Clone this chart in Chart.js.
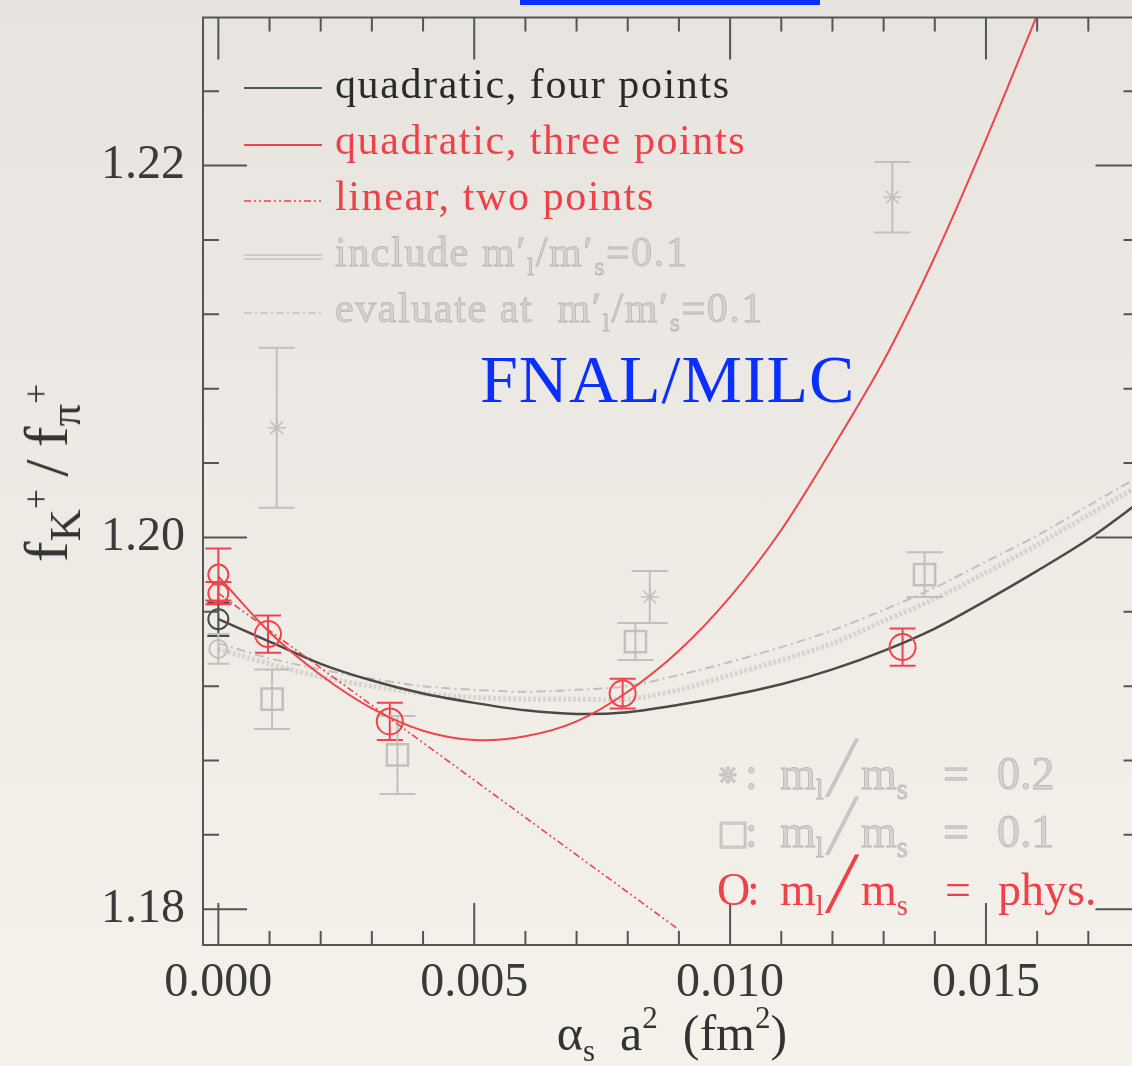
<!DOCTYPE html>
<html>
<head>
<meta charset="utf-8">
<script src="https://cdn.jsdelivr.net/npm/chart.js@4.4.1/dist/chart.umd.min.js"></script>
<style>
  html, body { margin: 0; padding: 0; }
  body {
    width: 1132px; height: 1066px; overflow: hidden; position: relative;
    background: linear-gradient(#e7e4df, #f5f2ec);
    font-family: "Liberation Serif", serif;
  }
  #wrap { position: absolute; left: 0; top: 0; width: 1157px; height: 1066px; }
  .abs { position: absolute; white-space: nowrap; }
  sub { font-size: 0.62em; vertical-align: -0.35em; line-height: 0; }
  sup { font-size: 0.62em; vertical-align: 0.7em; line-height: 0; }
  .leg { font-size: 42px; line-height: 42px; letter-spacing: 1.6px; left: 335px; }
  .faint { color: #d6d3ce; -webkit-text-stroke: 0.8px #b9b7b3; }
  .sym { font-size: 46px; line-height: 46px; }
  .sym span { position: absolute; top: 0; }
  .sym .sl { font-family: "DejaVu Sans"; font-size: 50px; top: -6px; -webkit-text-stroke: 0; }
  .ytl sub { font-size: 0.72em; vertical-align: -0.3em; }
  .ytl sub sup { font-size: 0.8em; vertical-align: 0.9em; }
</style>
</head>
<body>
<div id="wrap"><canvas id="plot" width="1157" height="1066"></canvas></div>

<div class="abs" style="left:520px; top:0; width:300px; height:5px; background:#0b2fff;"></div>

<!-- fit legend, top left -->
<svg class="abs" style="left:244px; top:0;" width="80" height="340">
  <line x1="0" x2="78" y1="88" y2="88" stroke="#555" stroke-width="2"/>
  <line x1="0" x2="78" y1="145" y2="145" stroke="#f0444c" stroke-width="2"/>
  <line x1="0" x2="78" y1="201" y2="201" stroke="#f0444c" stroke-width="1.6" stroke-dasharray="7 3 2 3 2 3"/>
  <line x1="0" x2="78" y1="255" y2="255" stroke="#c4c2be" stroke-width="1.6"/>
  <line x1="0" x2="78" y1="259" y2="259" stroke="#c4c2be" stroke-width="1.6"/>
  <line x1="0" x2="78" y1="313" y2="313" stroke="#c4c2be" stroke-width="1.6" stroke-dasharray="8 3 2 3"/>
</svg>
<div class="abs leg" style="top:63px; color:#2a2a2a;">quadratic, four points</div>
<div class="abs leg" style="top:119px; color:#f0404a;">quadratic, three points</div>
<div class="abs leg" style="top:175px; color:#f0404a;">linear, two points</div>
<div class="abs leg faint" style="top:231px;">include m′<sub>l</sub>/m′<sub>s</sub>=0.1</div>
<div class="abs leg faint" style="top:287px;">evaluate at&nbsp; m′<sub>l</sub>/m′<sub>s</sub>=0.1</div>

<div class="abs" style="left:480px; top:345px; font-size:68px; line-height:68px; letter-spacing:1px; color:#0b2fff;">FNAL/MILC</div>

<!-- symbol legend, bottom right -->
<div class="abs sym faint" style="left:717px; top:751px; width:400px; height:46px;">
  <span style="left:0; font-family:'DejaVu Sans'; font-size:26px;">⋇</span><span style="left:28px;">:</span>
  <span style="left:63px;">m<sub>l</sub></span><span class="sl" style="left:110px; color:#c9c6c1;">╱</span><span style="left:144px;">m<sub>s</sub></span>
  <span style="left:226px;">=</span><span style="left:280px;">0.2</span>
</div>
<div class="abs sym faint" style="left:717px; top:809px; width:400px; height:46px;">
  <span style="left:0; font-family:'DejaVu Sans'; font-size:34px;">□</span><span style="left:28px;">:</span>
  <span style="left:63px;">m<sub>l</sub></span><span class="sl" style="left:110px; color:#c9c6c1;">╱</span><span style="left:144px;">m<sub>s</sub></span>
  <span style="left:226px;">=</span><span style="left:280px;">0.1</span>
</div>
<div class="abs sym" style="left:717px; top:867px; width:400px; height:46px; color:#f0404a;">
  <span style="left:0;">O</span><span style="left:30px;">:</span>
  <span style="left:63px;">m<sub>l</sub></span><span class="sl" style="left:110px;">╱</span><span style="left:144px;">m<sub>s</sub></span>
  <span style="left:228px;">=</span><span style="left:281px;">phys.</span>
</div>

<!-- axis titles -->
<div class="abs ytl" style="left:46px; top:473px; transform:translate(-50%,-50%) rotate(-90deg); font-size:62px; line-height:62px; color:#333;">f<sub>K<sup>+</sup></sub>&thinsp;/&thinsp;f<sub>π<sup>+</sup></sub></div>
<div class="abs" style="left:672px; top:1008px; transform:translateX(-50%); font-size:50px; line-height:50px; color:#333;">α<sub>s</sub>&nbsp; a<sup>2</sup>&nbsp; (fm<sup>2</sup>)</div>

<script>
// axis ranges and ticks
const xRange = [-0.0003, 0.018];
const yRange = [1.178075, 1.227968];
const xTicks = [0, 0.005, 0.010, 0.015];
const yTicks = [1.18, 1.20, 1.22];
const xMinorTicks = [0, 0.001, 0.002, 0.003, 0.004, 0.005, 0.006, 0.007, 0.008, 0.009,
  0.010, 0.011, 0.012, 0.013, 0.014, 0.015, 0.016, 0.017, 0.018];
const yMinorTicks = [1.18, 1.184, 1.188, 1.192, 1.196, 1.20, 1.204, 1.208, 1.212, 1.216,
  1.22, 1.224];

// data points: m_l/m_s = phys.
const physX = [0.00097, 0.00335, 0.0079, 0.01337];
const physY = [1.1948, 1.1901, 1.1916, 1.1941];
const physErr = [0.0010, 0.0010, 0.0008, 0.0010];

// continuum extrapolations at a = 0
const extrapRedY = [1.1980, 1.1970];
const extrapRedErr = [0.0014, 0.0006];
const extrapBlackY = [1.1956];
const extrapBlackErr = [0.0009];
const extrapGrayY = [1.1940];
const extrapGrayErr = [0.0008];

// m_l/m_s = 0.1
const sq01X = [0.00105, 0.0035, 0.00815, 0.0138];
const sq01Y = [1.1913, 1.1883, 1.1944, 1.1980];
const sq01Err = [0.0016, 0.0021, 0.0010, 0.0012];

// m_l/m_s = 0.2
const st02X = [0.00114, 0.00843, 0.01317];
const st02Y = [1.2059, 1.1968, 1.2183];
const st02Err = [0.0043, 0.0014, 0.0019];

// fit curves
const curveX = [0, 0.001, 0.002, 0.003, 0.004, 0.005, 0.006, 0.007, 0.008, 0.009,
  0.010, 0.011, 0.012, 0.013, 0.014, 0.015, 0.016, 0.017, 0.018];
const quad4Y = [1.1956, 1.1944, 1.1932, 1.1923, 1.1916, 1.1911, 1.1907, 1.1905, 1.1906, 1.1910,
  1.1915, 1.1921, 1.1929, 1.1939, 1.1951, 1.1966, 1.1982, 1.1999, 1.2019];
const quad3X = [0, 0.001, 0.002, 0.003, 0.004, 0.005, 0.006, 0.007, 0.008, 0.009,
  0.010, 0.011, 0.012, 0.013, 0.014, 0.015, 0.016];
const quad3Y = [1.1979, 1.1949, 1.1926, 1.1908, 1.1896, 1.1891, 1.1893, 1.1901, 1.1917, 1.1939,
  1.1968, 1.2004, 1.2048, 1.2095, 1.2151, 1.2214, 1.2281];
const lin2X = [0, 0.009];
const lin2Y = [1.1970, 1.1789];
const includeY = [1.1940, 1.1932, 1.1925, 1.1920, 1.1916, 1.1914, 1.1913, 1.1913, 1.1913, 1.1918,
  1.1926, 1.1934, 1.1943, 1.1955, 1.1967, 1.1981, 1.1996, 1.2012, 1.2028];
const evalY = [1.1943, 1.1935, 1.1929, 1.1924, 1.1920, 1.1918, 1.1917, 1.1918, 1.1920, 1.1926,
  1.1933, 1.1941, 1.1950, 1.1961, 1.1973, 1.1987, 1.2001, 1.2017, 1.2033];

const red = '#f0444c';
const dark = '#4a4a4a';
const gray = '#c2c0bc';
const axisColor = '#555';

const pts = (xs, ys) => xs.map((x, i) => ({ x: x, y: ys[i] }));
const zeros = n => new Array(n).fill(0);

// keep the plot box fixed: no automatic padding for edge labels
function noPad(s) {
  s.paddingTop = 0; s.paddingBottom = 0; s.paddingLeft = 0; s.paddingRight = 0;
}

// frame with inward ticks on all four sides
const frameTicks = {
  id: 'frameTicks',
  afterDraw(chart) {
    const { ctx, chartArea: a, scales: { x, y } } = chart;
    ctx.save();
    ctx.strokeStyle = axisColor;
    ctx.lineWidth = 2;
    ctx.strokeRect(a.left, a.top, a.right - a.left, a.bottom - a.top);
    ctx.beginPath();
    xMinorTicks.forEach((v, i) => {
      const p = x.getPixelForValue(v);
      const len = i % 5 === 0 ? 42 : 14;
      ctx.moveTo(p, a.bottom); ctx.lineTo(p, a.bottom - len);
      ctx.moveTo(p, a.top); ctx.lineTo(p, a.top + len);
    });
    yMinorTicks.forEach((v, i) => {
      const p = y.getPixelForValue(v);
      const len = i % 5 === 0 ? 44 : 16;
      ctx.moveTo(a.left, p); ctx.lineTo(a.left + len, p);
      ctx.moveTo(a.right, p); ctx.lineTo(a.right - len, p);
    });
    ctx.stroke();
    ctx.restore();
  }
};

// vertical error bars from each dataset's errors array
const errorBars = {
  id: 'errorBars',
  beforeDatasetsDraw(chart) {
    const { ctx, scales: { x, y } } = chart;
    chart.data.datasets.forEach(ds => {
      if (!ds.errors) return;
      ctx.save();
      ctx.strokeStyle = ds.borderColor;
      ctx.lineWidth = 2;
      ds.data.forEach((pt, i) => {
        const px = x.getPixelForValue(pt.x);
        const top = y.getPixelForValue(pt.y + ds.errors[i]);
        const bot = y.getPixelForValue(pt.y - ds.errors[i]);
        const cap = ds.capWidth;
        ctx.beginPath();
        ctx.moveTo(px, top); ctx.lineTo(px, bot);
        ctx.moveTo(px - cap, top); ctx.lineTo(px + cap, top);
        ctx.moveTo(px - cap, bot); ctx.lineTo(px + cap, bot);
        ctx.stroke();
      });
      ctx.restore();
    });
  }
};

new Chart(document.getElementById('plot'), {
  type: 'scatter',
  data: {
    datasets: [
      {
        label: 'phys',
        data: pts(physX, physY),
        errors: physErr, capWidth: 13,
        pointStyle: 'circle', pointRadius: 13,
        borderColor: red, backgroundColor: 'transparent', borderWidth: 2
      },
      {
        label: 'extrap red',
        data: pts(zeros(2), extrapRedY),
        errors: extrapRedErr, capWidth: 13,
        pointStyle: 'circle', pointRadius: 10,
        borderColor: red, backgroundColor: 'transparent', borderWidth: 2
      },
      {
        label: 'extrap black',
        data: pts(zeros(1), extrapBlackY),
        errors: extrapBlackErr, capWidth: 11,
        pointStyle: 'circle', pointRadius: 10,
        borderColor: dark, backgroundColor: 'transparent', borderWidth: 2
      },
      {
        label: 'quadratic, three points',
        data: pts(quad3X, quad3Y),
        showLine: true, pointRadius: 0, tension: 0.3,
        borderColor: red, borderWidth: 2
      },
      {
        label: 'linear, two points',
        data: pts(lin2X, lin2Y),
        showLine: true, pointRadius: 0,
        borderColor: red, borderWidth: 1.6, borderDash: [7, 3, 2, 3, 2, 3]
      },
      {
        label: 'quadratic, four points',
        data: pts(curveX, quad4Y),
        showLine: true, pointRadius: 0, tension: 0.3,
        borderColor: dark, borderWidth: 2.5
      },
      {
        label: 'extrap gray',
        data: pts(zeros(1), extrapGrayY),
        errors: extrapGrayErr, capWidth: 11,
        pointStyle: 'circle', pointRadius: 9,
        borderColor: gray, backgroundColor: 'transparent', borderWidth: 2
      },
      {
        label: 'include',
        data: pts(curveX, includeY),
        showLine: true, pointRadius: 0, tension: 0.3,
        borderColor: 'rgba(170,168,164,0.35)', borderWidth: 5, borderDash: [3, 2]
      },
      {
        label: 'evaluate',
        data: pts(curveX, evalY),
        showLine: true, pointRadius: 0, tension: 0.3,
        borderColor: gray, borderWidth: 2, borderDash: [9, 4, 2, 4]
      },
      {
        label: '0.1',
        data: pts(sq01X, sq01Y),
        errors: sq01Err, capWidth: 18,
        pointStyle: 'rect', pointRadius: 15,
        borderColor: gray, backgroundColor: 'transparent', borderWidth: 2.5
      },
      {
        label: '0.2',
        data: pts(st02X, st02Y),
        errors: st02Err, capWidth: 18,
        pointStyle: 'star', pointRadius: 9,
        borderColor: gray, backgroundColor: 'transparent', borderWidth: 1.5
      }
    ]
  },
  options: {
    responsive: false,
    animation: false,
    events: [],
    layout: { padding: { top: 6, right: 5, left: 0, bottom: 0 } },
    plugins: { legend: { display: false }, tooltip: { enabled: false } },
    scales: {
      x: {
        type: 'linear', min: xRange[0], max: xRange[1],
        grid: { display: false, drawTicks: false },
        border: { display: false },
        afterBuildTicks: s => { s.ticks = xTicks.map(v => ({ value: v })); },
        afterFit: s => { s.height = 121; noPad(s); },
        ticks: {
          padding: 10, color: '#3a3a3a',
          font: { family: 'Liberation Serif', size: 48 },
          callback: v => v.toFixed(3)
        }
      },
      y: {
        type: 'linear', min: yRange[0], max: yRange[1],
        grid: { display: false, drawTicks: false },
        border: { display: false },
        afterBuildTicks: s => { s.ticks = yTicks.map(v => ({ value: v })); },
        afterFit: s => { s.width = 203; noPad(s); },
        ticks: {
          padding: 18, color: '#3a3a3a',
          font: { family: 'Liberation Serif', size: 48 },
          callback: v => v.toFixed(2)
        }
      }
    }
  },
  plugins: [errorBars, frameTicks]
});
</script>
</body>
</html>
